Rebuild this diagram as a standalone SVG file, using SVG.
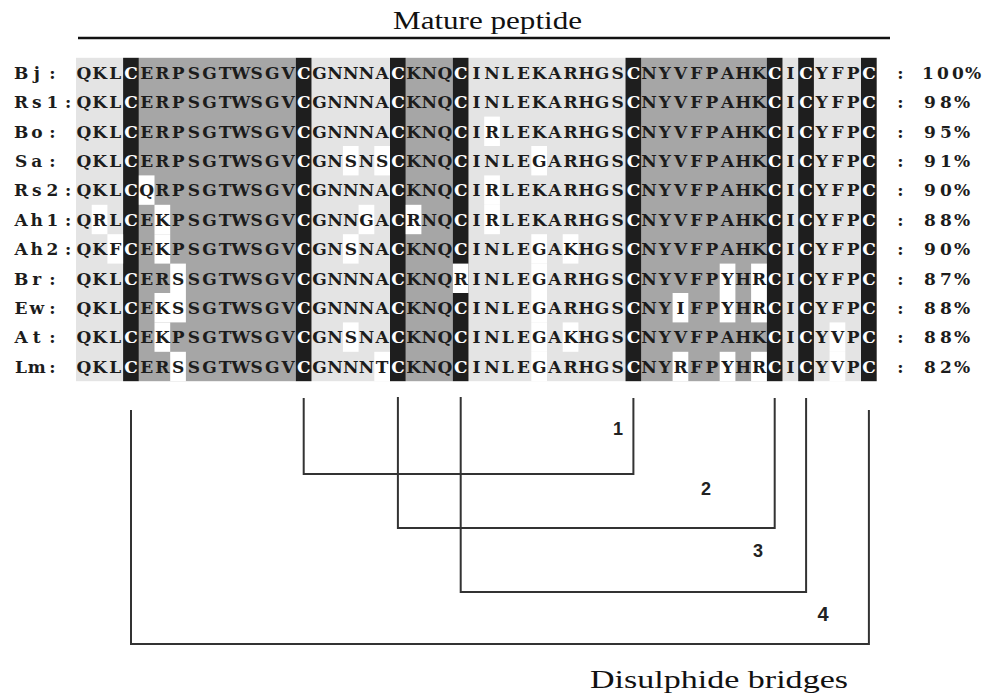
<svg xmlns="http://www.w3.org/2000/svg" width="984" height="694" viewBox="0 0 984 694">
  <style>
    .lt { fill: #e4e4e4; }
    .dk { fill: #a6a6a6; }
    .bk { fill: #1e1e1e; }
    .wh { fill: #ffffff; }
    .seq { font-family: "DejaVu Serif", "Liberation Serif", serif; font-weight: bold; font-size: 17px; fill: #1c1c1c; text-anchor: middle; }
    .c { fill: #ffffff; }
    .head { font-family: "Liberation Serif", serif; font-size: 26px; fill: #111; }
    .num { font-family: "Liberation Sans", Arial, sans-serif; font-weight: bold; font-size: 18px; fill: #222; text-anchor: middle; }
    .bridge { fill: none; stroke: #333; stroke-width: 2; }
  </style>

  <rect width="984" height="694" fill="#ffffff"/>

  <!-- title -->
  <g id="title">
    <text class="head" x="393" y="29" textLength="189" lengthAdjust="spacingAndGlyphs">Mature peptide</text>
    <line x1="78" y1="38" x2="890" y2="38" stroke="#111" stroke-width="2.5"/>
  </g>

  <!-- column shading: col c spans x = 76 + (c-1)*15.7, width 15.7; rows from 57.8, pitch 29.4 -->
  <g id="shading">
    <rect class="lt" x="76" y="57.8" width="47.1" height="323.4"/>
    <rect class="dk" x="138.8" y="57.8" width="157" height="323.4"/>
    <rect class="lt" x="311.5" y="57.8" width="78.5" height="323.4"/>
    <rect class="dk" x="405.7" y="57.8" width="47.1" height="323.4"/>
    <rect class="lt" x="468.5" y="57.8" width="157" height="323.4"/>
    <rect class="dk" x="641.2" y="57.8" width="125.6" height="323.4"/>
    <rect class="lt" x="782.5" y="57.8" width="15.7" height="323.4"/>
    <rect class="lt" x="813.9" y="57.8" width="47.1" height="323.4"/>
    <!-- conserved cysteines -->
    <rect class="bk" x="123.1" y="57.8" width="15.7" height="323.4"/>
    <rect class="bk" x="295.8" y="57.8" width="15.7" height="323.4"/>
    <rect class="bk" x="390" y="57.8" width="15.7" height="323.4"/>
    <rect class="bk" x="452.8" y="57.8" width="15.7" height="323.4"/>
    <rect class="bk" x="625.5" y="57.8" width="15.7" height="323.4"/>
    <rect class="bk" x="766.8" y="57.8" width="15.7" height="323.4"/>
    <rect class="bk" x="798.2" y="57.8" width="15.7" height="323.4"/>
    <rect class="bk" x="861" y="57.8" width="15.7" height="323.4"/>
    <!-- substituted residues -->
    <rect class="wh" x="484.2" y="116.6" width="15.7" height="29.4"/>
    <rect class="wh" x="342.9" y="146" width="15.7" height="29.4"/>
    <rect class="wh" x="374.3" y="146" width="15.7" height="29.4"/>
    <rect class="wh" x="531.3" y="146" width="15.7" height="29.4"/>
    <rect class="wh" x="138.8" y="175.4" width="15.7" height="29.4"/>
    <rect class="wh" x="484.2" y="175.4" width="15.7" height="29.4"/>
    <rect class="wh" x="91.7" y="204.8" width="15.7" height="29.4"/>
    <rect class="wh" x="154.5" y="204.8" width="15.7" height="29.4"/>
    <rect class="wh" x="358.6" y="204.8" width="15.7" height="29.4"/>
    <rect class="wh" x="405.7" y="204.8" width="15.7" height="29.4"/>
    <rect class="wh" x="484.2" y="204.8" width="15.7" height="29.4"/>
    <rect class="wh" x="107.4" y="234.2" width="15.7" height="29.4"/>
    <rect class="wh" x="154.5" y="234.2" width="15.7" height="29.4"/>
    <rect class="wh" x="342.9" y="234.2" width="15.7" height="29.4"/>
    <rect class="wh" x="531.3" y="234.2" width="15.7" height="29.4"/>
    <rect class="wh" x="562.7" y="234.2" width="15.7" height="29.4"/>
    <rect class="wh" x="170.2" y="263.6" width="15.7" height="29.4"/>
    <rect class="wh" x="452.8" y="263.6" width="15.7" height="29.4"/>
    <rect class="wh" x="531.3" y="263.6" width="15.7" height="29.4"/>
    <rect class="wh" x="719.7" y="263.6" width="15.7" height="29.4"/>
    <rect class="wh" x="751.1" y="263.6" width="15.7" height="29.4"/>
    <rect class="wh" x="154.5" y="293" width="31.4" height="29.4"/>
    <rect class="wh" x="531.3" y="293" width="15.7" height="29.4"/>
    <rect class="wh" x="672.6" y="293" width="15.7" height="29.4"/>
    <rect class="wh" x="719.7" y="293" width="15.7" height="29.4"/>
    <rect class="wh" x="751.1" y="293" width="15.7" height="29.4"/>
    <rect class="wh" x="154.5" y="322.4" width="15.7" height="29.4"/>
    <rect class="wh" x="342.9" y="322.4" width="15.7" height="29.4"/>
    <rect class="wh" x="531.3" y="322.4" width="15.7" height="29.4"/>
    <rect class="wh" x="562.7" y="322.4" width="15.7" height="29.4"/>
    <rect class="wh" x="829.6" y="322.4" width="15.7" height="29.4"/>
    <rect class="wh" x="170.2" y="351.8" width="15.7" height="29.4"/>
    <rect class="wh" x="374.3" y="351.8" width="15.7" height="29.4"/>
    <rect class="wh" x="531.3" y="351.8" width="15.7" height="29.4"/>
    <rect class="wh" x="672.6" y="351.8" width="15.7" height="29.4"/>
    <rect class="wh" x="719.7" y="351.8" width="15.7" height="29.4"/>
    <rect class="wh" x="751.1" y="351.8" width="15.7" height="29.4"/>
    <rect class="wh" x="829.6" y="351.8" width="15.7" height="29.4"/>
  </g>

  <!-- sequence names -->
  <g id="names" class="seq">
    <text x="21.1 36.8 52.5" y="78.7">Bj:</text>
    <text x="21.1 36.8 52.5 68.2" y="108.1">Rs1:</text>
    <text x="21.1 36.8 52.5" y="137.5">Bo:</text>
    <text x="21.1 36.8 52.5" y="166.9">Sa:</text>
    <text x="21.1 36.8 52.5 68.2" y="196.3">Rs2:</text>
    <text x="21.1 36.8 52.5 68.2" y="225.7">Ah1:</text>
    <text x="21.1 36.8 52.5 68.2" y="255.1">Ah2:</text>
    <text x="21.1 36.8 52.5" y="284.5">Br:</text>
    <text x="21.1 36.8 52.5" y="313.9">Ew:</text>
    <text x="21.1 36.8 52.5" y="343.3">At:</text>
    <text x="21.1 36.8 52.5" y="372.7">Lm:</text>
  </g>

  <!-- aligned residues, one glyph per column -->
  <g id="alignment" class="seq">
    <text y="78.7" x="83.9 99.6 115.3 131.0 146.7 162.4 178.1 193.8 209.5 225.2 240.9 256.6 272.3 288.0 303.7 319.4 335.1 350.8 366.5 382.2 397.9 413.6 429.3 445.0 460.7 476.4 492.1 507.8 523.5 539.2 554.9 570.6 586.3 602.0 617.7 633.4 649.1 664.8 680.5 696.2 711.9 727.6 743.3 759.0 774.7 790.4 806.1 821.8 837.5 853.2 868.9">QKL<tspan class="c">C</tspan>ERPSGTWSGV<tspan class="c">C</tspan>GNNNA<tspan class="c">C</tspan>KNQ<tspan class="c">C</tspan>INLEKARHGS<tspan class="c">C</tspan>NYVFPAHK<tspan class="c">C</tspan>I<tspan class="c">C</tspan>YFP<tspan class="c">C</tspan></text>
    <text y="108.1" x="83.9 99.6 115.3 131.0 146.7 162.4 178.1 193.8 209.5 225.2 240.9 256.6 272.3 288.0 303.7 319.4 335.1 350.8 366.5 382.2 397.9 413.6 429.3 445.0 460.7 476.4 492.1 507.8 523.5 539.2 554.9 570.6 586.3 602.0 617.7 633.4 649.1 664.8 680.5 696.2 711.9 727.6 743.3 759.0 774.7 790.4 806.1 821.8 837.5 853.2 868.9">QKL<tspan class="c">C</tspan>ERPSGTWSGV<tspan class="c">C</tspan>GNNNA<tspan class="c">C</tspan>KNQ<tspan class="c">C</tspan>INLEKARHGS<tspan class="c">C</tspan>NYVFPAHK<tspan class="c">C</tspan>I<tspan class="c">C</tspan>YFP<tspan class="c">C</tspan></text>
    <text y="137.5" x="83.9 99.6 115.3 131.0 146.7 162.4 178.1 193.8 209.5 225.2 240.9 256.6 272.3 288.0 303.7 319.4 335.1 350.8 366.5 382.2 397.9 413.6 429.3 445.0 460.7 476.4 492.1 507.8 523.5 539.2 554.9 570.6 586.3 602.0 617.7 633.4 649.1 664.8 680.5 696.2 711.9 727.6 743.3 759.0 774.7 790.4 806.1 821.8 837.5 853.2 868.9">QKL<tspan class="c">C</tspan>ERPSGTWSGV<tspan class="c">C</tspan>GNNNA<tspan class="c">C</tspan>KNQ<tspan class="c">C</tspan>IRLEKARHGS<tspan class="c">C</tspan>NYVFPAHK<tspan class="c">C</tspan>I<tspan class="c">C</tspan>YFP<tspan class="c">C</tspan></text>
    <text y="166.9" x="83.9 99.6 115.3 131.0 146.7 162.4 178.1 193.8 209.5 225.2 240.9 256.6 272.3 288.0 303.7 319.4 335.1 350.8 366.5 382.2 397.9 413.6 429.3 445.0 460.7 476.4 492.1 507.8 523.5 539.2 554.9 570.6 586.3 602.0 617.7 633.4 649.1 664.8 680.5 696.2 711.9 727.6 743.3 759.0 774.7 790.4 806.1 821.8 837.5 853.2 868.9">QKL<tspan class="c">C</tspan>ERPSGTWSGV<tspan class="c">C</tspan>GNSNS<tspan class="c">C</tspan>KNQ<tspan class="c">C</tspan>INLEGARHGS<tspan class="c">C</tspan>NYVFPAHK<tspan class="c">C</tspan>I<tspan class="c">C</tspan>YFP<tspan class="c">C</tspan></text>
    <text y="196.3" x="83.9 99.6 115.3 131.0 146.7 162.4 178.1 193.8 209.5 225.2 240.9 256.6 272.3 288.0 303.7 319.4 335.1 350.8 366.5 382.2 397.9 413.6 429.3 445.0 460.7 476.4 492.1 507.8 523.5 539.2 554.9 570.6 586.3 602.0 617.7 633.4 649.1 664.8 680.5 696.2 711.9 727.6 743.3 759.0 774.7 790.4 806.1 821.8 837.5 853.2 868.9">QKL<tspan class="c">C</tspan>QRPSGTWSGV<tspan class="c">C</tspan>GNNNA<tspan class="c">C</tspan>KNQ<tspan class="c">C</tspan>IRLEKARHGS<tspan class="c">C</tspan>NYVFPAHK<tspan class="c">C</tspan>I<tspan class="c">C</tspan>YFP<tspan class="c">C</tspan></text>
    <text y="225.7" x="83.9 99.6 115.3 131.0 146.7 162.4 178.1 193.8 209.5 225.2 240.9 256.6 272.3 288.0 303.7 319.4 335.1 350.8 366.5 382.2 397.9 413.6 429.3 445.0 460.7 476.4 492.1 507.8 523.5 539.2 554.9 570.6 586.3 602.0 617.7 633.4 649.1 664.8 680.5 696.2 711.9 727.6 743.3 759.0 774.7 790.4 806.1 821.8 837.5 853.2 868.9">QRL<tspan class="c">C</tspan>EKPSGTWSGV<tspan class="c">C</tspan>GNNGA<tspan class="c">C</tspan>RNQ<tspan class="c">C</tspan>IRLEKARHGS<tspan class="c">C</tspan>NYVFPAHK<tspan class="c">C</tspan>I<tspan class="c">C</tspan>YFP<tspan class="c">C</tspan></text>
    <text y="255.1" x="83.9 99.6 115.3 131.0 146.7 162.4 178.1 193.8 209.5 225.2 240.9 256.6 272.3 288.0 303.7 319.4 335.1 350.8 366.5 382.2 397.9 413.6 429.3 445.0 460.7 476.4 492.1 507.8 523.5 539.2 554.9 570.6 586.3 602.0 617.7 633.4 649.1 664.8 680.5 696.2 711.9 727.6 743.3 759.0 774.7 790.4 806.1 821.8 837.5 853.2 868.9">QKF<tspan class="c">C</tspan>EKPSGTWSGV<tspan class="c">C</tspan>GNSNA<tspan class="c">C</tspan>KNQ<tspan class="c">C</tspan>INLEGAKHGS<tspan class="c">C</tspan>NYVFPAHK<tspan class="c">C</tspan>I<tspan class="c">C</tspan>YFP<tspan class="c">C</tspan></text>
    <text y="284.5" x="83.9 99.6 115.3 131.0 146.7 162.4 178.1 193.8 209.5 225.2 240.9 256.6 272.3 288.0 303.7 319.4 335.1 350.8 366.5 382.2 397.9 413.6 429.3 445.0 460.7 476.4 492.1 507.8 523.5 539.2 554.9 570.6 586.3 602.0 617.7 633.4 649.1 664.8 680.5 696.2 711.9 727.6 743.3 759.0 774.7 790.4 806.1 821.8 837.5 853.2 868.9">QKL<tspan class="c">C</tspan>ERSSGTWSGV<tspan class="c">C</tspan>GNNNA<tspan class="c">C</tspan>KNQRINLEGARHGS<tspan class="c">C</tspan>NYVFPYHR<tspan class="c">C</tspan>I<tspan class="c">C</tspan>YFP<tspan class="c">C</tspan></text>
    <text y="313.9" x="83.9 99.6 115.3 131.0 146.7 162.4 178.1 193.8 209.5 225.2 240.9 256.6 272.3 288.0 303.7 319.4 335.1 350.8 366.5 382.2 397.9 413.6 429.3 445.0 460.7 476.4 492.1 507.8 523.5 539.2 554.9 570.6 586.3 602.0 617.7 633.4 649.1 664.8 680.5 696.2 711.9 727.6 743.3 759.0 774.7 790.4 806.1 821.8 837.5 853.2 868.9">QKL<tspan class="c">C</tspan>EKSSGTWSGV<tspan class="c">C</tspan>GNNNA<tspan class="c">C</tspan>KNQ<tspan class="c">C</tspan>INLEGARHGS<tspan class="c">C</tspan>NYIFPYHR<tspan class="c">C</tspan>I<tspan class="c">C</tspan>YFP<tspan class="c">C</tspan></text>
    <text y="343.3" x="83.9 99.6 115.3 131.0 146.7 162.4 178.1 193.8 209.5 225.2 240.9 256.6 272.3 288.0 303.7 319.4 335.1 350.8 366.5 382.2 397.9 413.6 429.3 445.0 460.7 476.4 492.1 507.8 523.5 539.2 554.9 570.6 586.3 602.0 617.7 633.4 649.1 664.8 680.5 696.2 711.9 727.6 743.3 759.0 774.7 790.4 806.1 821.8 837.5 853.2 868.9">QKL<tspan class="c">C</tspan>EKPSGTWSGV<tspan class="c">C</tspan>GNSNA<tspan class="c">C</tspan>KNQ<tspan class="c">C</tspan>INLEGAKHGS<tspan class="c">C</tspan>NYVFPAHK<tspan class="c">C</tspan>I<tspan class="c">C</tspan>YVP<tspan class="c">C</tspan></text>
    <text y="372.7" x="83.9 99.6 115.3 131.0 146.7 162.4 178.1 193.8 209.5 225.2 240.9 256.6 272.3 288.0 303.7 319.4 335.1 350.8 366.5 382.2 397.9 413.6 429.3 445.0 460.7 476.4 492.1 507.8 523.5 539.2 554.9 570.6 586.3 602.0 617.7 633.4 649.1 664.8 680.5 696.2 711.9 727.6 743.3 759.0 774.7 790.4 806.1 821.8 837.5 853.2 868.9">QKL<tspan class="c">C</tspan>ERSSGTWSGV<tspan class="c">C</tspan>GNNNT<tspan class="c">C</tspan>KNQ<tspan class="c">C</tspan>INLEGARHGS<tspan class="c">C</tspan>NYRFPYHR<tspan class="c">C</tspan>I<tspan class="c">C</tspan>YVP<tspan class="c">C</tspan></text>
  </g>

  <!-- identity to Bj -->
  <g id="identity" class="seq">
    <text x="900.3 928 943 958 973" y="78.7">:100%</text>
    <text x="900.3 930 946 962" y="108.1">:98%</text>
    <text x="900.3 930 946 962" y="137.5">:95%</text>
    <text x="900.3 930 946 962" y="166.9">:91%</text>
    <text x="900.3 930 946 962" y="196.3">:90%</text>
    <text x="900.3 930 946 962" y="225.7">:88%</text>
    <text x="900.3 930 946 962" y="255.1">:90%</text>
    <text x="900.3 930 946 962" y="284.5">:87%</text>
    <text x="900.3 930 946 962" y="313.9">:88%</text>
    <text x="900.3 930 946 962" y="343.3">:88%</text>
    <text x="900.3 930 946 962" y="372.7">:82%</text>
  </g>

  <!-- disulphide connectivity -->
  <g id="bridges">
    <g id="bridge1">
      <polyline class="bridge" points="303.7,398 303.7,474 633.4,474 633.4,398"/>
      <text class="num" x="618" y="435">1</text>
    </g>
    <g id="bridge2">
      <polyline class="bridge" points="397.9,397 397.9,528 774.7,528 774.7,398"/>
      <text class="num" x="706" y="495">2</text>
    </g>
    <g id="bridge3">
      <polyline class="bridge" points="460.7,397 460.7,592 806.1,592 806.1,398"/>
      <text class="num" x="758" y="557">3</text>
    </g>
    <g id="bridge4">
      <polyline class="bridge" points="131,410 131,644 868.9,644 868.9,410"/>
      <text class="num" x="823" y="621" style="font-size:20px">4</text>
    </g>
  </g>

  <text class="head" x="590" y="688" textLength="258" lengthAdjust="spacingAndGlyphs">Disulphide bridges</text>
</svg>
